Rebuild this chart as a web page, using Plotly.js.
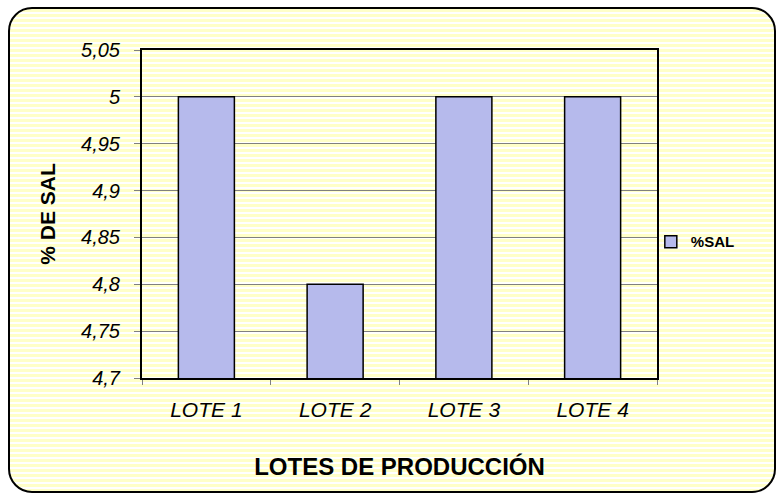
<!DOCTYPE html>
<html>
<head>
<meta charset="utf-8">
<script src="https://cdn.plot.ly/plotly-3.0.1.min.js"></script>
<style>
  html, body { margin: 0; padding: 0; background: #ffffff; width: 782px; height: 495px; overflow: hidden; }
  #frame {
    position: absolute; left: 8px; top: 7px; width: 768px; height: 486px;
    box-sizing: border-box; border: 2px solid #000; border-radius: 24px;
    background: repeating-linear-gradient(to bottom, #FFFFC8 0px, #FFFFC8 3px, #FFFFFF 3px, #FFFFFF 5px);
  }
  #chart { position: absolute; left: 0; top: 0; width: 782px; height: 495px; }
</style>
</head>
<body>
<div id="frame"></div>
<div id="chart"></div>
<script>
const categories = ["LOTE 1", "LOTE 2", "LOTE 3", "LOTE 4"];
const salValues = [5.0, 4.8, 5.0, 5.0];
const seriesName = "%SAL";
const yTickValues = [4.7, 4.75, 4.8, 4.85, 4.9, 4.95, 5.0, 5.05];

const trace = {
  type: "bar",
  x: categories,
  y: salValues,
  name: seriesName,
  marker: { color: "#B6BAEC", line: { color: "#000000", width: 1.5 } },
  showlegend: true,
  hoverinfo: "x+y"
};

const layout = {
  width: 782, height: 495,
  margin: { l: 142, r: 125, t: 50, b: 117 },
  paper_bgcolor: "rgba(0,0,0,0)",
  plot_bgcolor: "rgba(0,0,0,0)",
  separators: ",.",
  font: { family: "Liberation Sans, Arial, sans-serif", color: "#000" },
  bargap: 0.565,
  showlegend: true,
  legend: {
    x: 0.988, xanchor: "left", y: 0.415, yanchor: "middle",
    bgcolor: "rgba(0,0,0,0)", borderwidth: 0,
    font: { size: 15, weight: "bold", family: "Liberation Sans, Arial, sans-serif" }
  },
  xaxis: {
    type: "category",
    showline: true, linecolor: "#000", linewidth: 2, mirror: true,
    ticks: "outside", tickson: "boundaries", ticklen: 5, tickcolor: "#808080",
    tickfont: { size: 21, style: "italic" },
    ticklabelstandoff: 12,
    showgrid: false, zeroline: false,
    title: { text: "LOTES DE PRODUCCIÓN", font: { size: 24, weight: "bold" }, standoff: 38 }
  },
  yaxis: {
    range: [4.7, 5.05],
    tickvals: yTickValues,
    showline: true, linecolor: "#000", linewidth: 2, mirror: true,
    ticks: "outside", ticklen: 6, tickcolor: "#808080",
    tickfont: { size: 20, style: "italic" },
    ticklabelstandoff: 10,
    showgrid: true, gridcolor: "#808080", gridwidth: 1,
    zeroline: false,
    title: { text: "% DE SAL", font: { size: 21, weight: "bold" }, standoff: 20 }
  }
};

Plotly.newPlot("chart", [trace], layout, { displayModeBar: false, staticPlot: true });
</script>
</body>
</html>
